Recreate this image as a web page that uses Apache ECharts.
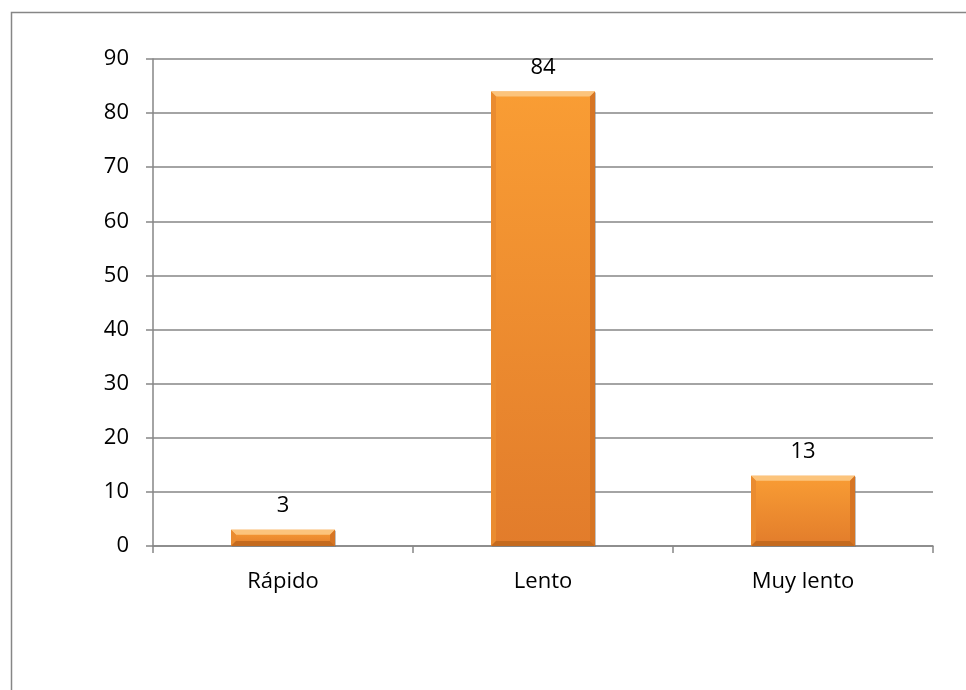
<!DOCTYPE html>
<html>
<head>
<meta charset="utf-8">
<title>Velocidad</title>
<script src="https://cdn.jsdelivr.net/npm/echarts@6/dist/echarts.min.js"></script>
<style>
  html, body { margin: 0; padding: 0; background: #ffffff; }
  #chart { width: 966px; height: 690px; }
</style>
</head>
<body>
<div id="chart"></div>
<script>
// Categories and counts
const categories = ['Rápido', 'Lento', 'Muy lento'];
const counts = [3, 84, 13];
const yTicks = { min: 0, max: 90, interval: 10 };

const FONT = '"Open Sans", "Noto Sans", sans-serif';
const FONT_SIZE = 22;
const GRID_COLOR = '#868686';

// Beveled orange bar: front face plus four lit/shaded edges
function renderBevelBar(params, api) {
  const idx = api.value(0);
  const val = api.value(1);
  const top = api.coord([idx, val]);
  const base = api.coord([idx, 0]);
  const bw = api.size([1, 0])[0] * 0.4;
  const x0 = top[0] - bw / 2, x1 = top[0] + bw / 2;
  const y0 = top[1], y1 = base[1];
  const b = Math.min(5, (y1 - y0) / 2.5);

  return {
    type: 'group',
    children: [
      { // soft drop shadow
        type: 'rect',
        shape: { x: x0 + 1, y: y0 + 1, width: bw, height: y1 - y0 },
        style: { fill: 'rgba(120,120,120,0.45)' }
      },
      { // front face
        type: 'rect',
        shape: { x: x0, y: y0, width: bw, height: y1 - y0 },
        style: {
          fill: new echarts.graphic.LinearGradient(0, 0, 0, 1, [
            { offset: 0, color: '#F99D34' },
            { offset: 1, color: '#E27C2B' }
          ])
        }
      },
      { // top edge
        type: 'polygon',
        shape: { points: [[x0, y0], [x1, y0], [x1 - b, y0 + b], [x0 + b, y0 + b]] },
        style: { fill: '#FCC47C' }
      },
      { // left edge
        type: 'polygon',
        shape: { points: [[x0, y0], [x0 + b, y0 + b], [x0 + b, y1 - b], [x0, y1]] },
        style: { fill: '#EA8C30' }
      },
      { // right edge
        type: 'polygon',
        shape: { points: [[x1, y0], [x1 - b, y0 + b], [x1 - b, y1 - b], [x1, y1]] },
        style: { fill: '#D67524' }
      },
      { // bottom edge
        type: 'polygon',
        shape: { points: [[x0, y1], [x0 + b, y1 - b], [x1 - b, y1 - b], [x1, y1]] },
        style: { fill: '#C46A1E' }
      },
      { // value label
        type: 'text',
        style: {
          text: String(val),
          x: top[0],
          y: y0 - 13,
          align: 'center',
          verticalAlign: 'bottom',
          fill: '#000000',
          font: FONT_SIZE + 'px ' + FONT
        }
      }
    ]
  };
}

const chart = echarts.init(document.getElementById('chart'));
chart.setOption({
  animation: false,
  backgroundColor: '#ffffff',
  graphic: [{
    type: 'rect',
    left: 9, top: 10,
    shape: { width: 980, height: 700 },
    style: { fill: 'none', stroke: GRID_COLOR, lineWidth: 1.5 },
    z: -1
  }],
  grid: { left: 153, right: 33, top: 59, bottom: 144 },
  xAxis: {
    type: 'category',
    data: categories,
    boundaryGap: true,
    axisLine: { show: true, lineStyle: { color: GRID_COLOR, width: 1.5 } },
    axisTick: { show: true, length: 7, lineStyle: { color: GRID_COLOR, width: 1.5 } },
    axisLabel: { color: '#000000', fontSize: FONT_SIZE, fontFamily: FONT, margin: 25 }
  },
  yAxis: {
    type: 'value',
    min: yTicks.min, max: yTicks.max, interval: yTicks.interval,
    axisLine: { show: true, lineStyle: { color: GRID_COLOR, width: 1.5 } },
    axisTick: { show: true, length: 7, lineStyle: { color: GRID_COLOR, width: 1.5 } },
    splitLine: { show: true, lineStyle: { color: GRID_COLOR, width: 1.5 } },
    axisLabel: { color: '#000000', fontSize: FONT_SIZE, fontFamily: FONT, margin: 24 }
  },
  series: [{
    type: 'custom',
    renderItem: renderBevelBar,
    encode: { x: 0, y: 1 },
    data: counts.map((v, i) => [i, v])
  }]
});
</script>
</body>
</html>
